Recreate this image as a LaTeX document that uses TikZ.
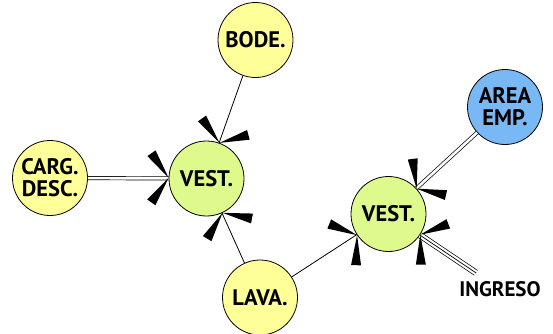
\documentclass[tikz,border=0pt]{standalone}
\usepackage{fontspec}
\setmainfont{PT Sans}
\usetikzlibrary{calc}
\definecolor{ylw}{HTML}{FFFF99}
\definecolor{grn}{HTML}{DFFA8C}
\definecolor{blu}{HTML}{78B9F5}
\newcommand\spk[2]{%
  \path let \p1 = ($(#2)-(#1)$), \n1 = {atan2(\y1,\x1)} in
    coordinate (spkc) at (#1.\n1);
  \path let \p1 = ($(#2)-(#1)$), \n1 = {atan2(\y1,\x1)} in
    [fill=black]
    (spkc) -- ($(spkc)+(\n1+55:30pt)+(\n1+145:5pt)$) -- ($(spkc)+(\n1+55:30pt)+(\n1-35:5pt)$) -- cycle
    (spkc) -- ($(spkc)+(\n1-55:30pt)+(\n1+35:5pt)$) -- ($(spkc)+(\n1-55:30pt)+(\n1-145:5pt)$) -- cycle;
}
\tikzset{
  nd/.style={circle, draw, line width=0.8pt, minimum size=75pt, inner sep=0pt,
    font=\fontsize{22.5}{22}\selectfont\bfseries, align=center},
  yl/.style={nd, fill=ylw},
  gr/.style={nd, fill=grn},
  bl/.style={nd, fill=blu},
  conn/.style={line width=0.8pt},
  dbl/.style={line width=0.7pt, double, double distance=2.6pt},
  tpl/.style={line width=0.7pt, double, double distance=5pt},
}
\begin{document}
\begin{tikzpicture}[x=1pt,y=-1pt]
\useasboundingbox (0,0) rectangle (553,333);
\node[yl] (bode) at (255.5,40) {BODE.};
\node[yl] (carg) at (50,178) {CARG.\\DESC.};
\node[gr] (vl) at (206.5,178.5) {VEST.};
\node[bl] (area) at (505,107) {AREA\\EMP.};
\node[gr] (vr) at (388.5,214) {VEST.};
\node[yl] (lava) at (260,297.5) {LAVA.};
\node[inner sep=0pt, minimum height=32pt, font=\fontsize{21}{22}\selectfont\bfseries] (ing) at (500,289) {INGRESO};
\draw[dbl] (carg) -- (vl);
\draw[conn] (bode) -- (vl);
\draw[conn] (lava) -- (vl);
\draw[conn] (lava) -- (vr);
\draw[dbl] (area) -- (vr);
\draw[tpl] (ing) -- (vr);
\draw[line width=0.7pt] (ing) -- (vr);
\spk{vl}{carg}
\spk{vl}{bode}
\spk{vl}{lava}
\spk{vr}{lava}
\spk{vr}{area}
\spk{vr}{ing}
\end{tikzpicture}
\end{document}
